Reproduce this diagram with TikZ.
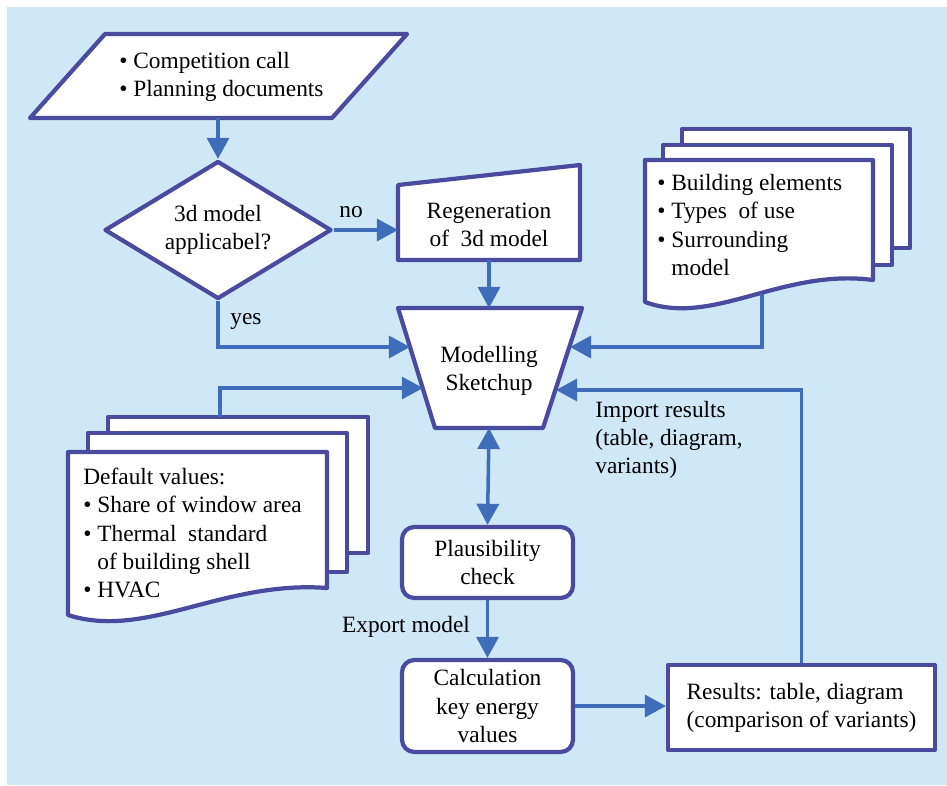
\documentclass[tikz,border=0pt]{standalone}
\usepackage{fontspec}
\setmainfont{Liberation Serif}
\usetikzlibrary{shapes.geometric}
\usetikzlibrary{arrows.meta}
\definecolor{bgblue}{HTML}{CFE8F7}
\definecolor{boxline}{HTML}{4A4A9E}
\definecolor{flowblue}{HTML}{3F6DB9}
\newcommand{\bul}{\textbullet\ }

\begin{document}
\begin{tikzpicture}[x=0.02cm, y=-0.02cm,
    every node/.style={font=\fontsize{13.3}{16}\selectfont},
    box/.style={draw=boxline, line width=2.4pt, fill=white, line join=round},
    flow/.style={draw=flowblue, line width=2pt, -{Triangle[length=12pt,width=12.5pt]}},
    flowboth/.style={draw=flowblue, line width=2pt, {Triangle[length=12pt,width=12.5pt]}-{Triangle[length=12pt,width=12.5pt]}},
    lbl/.style={inner sep=0pt, align=left}]
        \useasboundingbox (0,0) rectangle (947,785);
        \fill[bgblue] (7,7) rectangle (947,785);

        % input documents
        \draw[box] (105,34) -- (407,34) -- (332,118) -- (30,118) -- cycle;
        \node[lbl, anchor=west] (input) at (119,77) {\bul Competition call\\ \bul Planning documents};
        \coordinate (input-s) at (218,118);

        % decision
        \node[box, diamond, aspect=1.64, minimum width=4.54cm, minimum height=2.76cm, inner sep=0pt, align=center] (decide) at (218,230) {3d model\\applicabel?};

        % regeneration
        \draw[box] (398,185) -- (580,165) -- (580,260) -- (398,260) -- cycle;
        \node[align=center] (regen) at (489,225) {Regeneration\\of\ \ 3d model};
        \coordinate (regen-w) at (398,231);
        \coordinate (regen-s) at (489,260);

        % modelling
        \draw[box] (398,308) -- (582,308) -- (543,428) -- (435,428) -- cycle;
        \node[align=center] (model) at (489,371) {Modelling\\Sketchup};
        \coordinate (model-n) at (489,308);
        \coordinate (model-s) at (489,428);
        \coordinate (model-w1) at (410,347);
        \coordinate (model-w2) at (423,388);
        \coordinate (model-e1) at (570,347);
        \coordinate (model-e2) at (556,390);

        % building data stack
        \draw[box] (682,129) rectangle (910,248);
        \draw[box] (663,145) rectangle (892,265);
        \draw[box] (645,160) -- (873,160) -- (873,280) .. controls (782,268) and (713,327) .. (645,302) -- cycle;
        \node[lbl, anchor=west] (elements) at (657,225) {\bul Building elements\\ \bul Types\ \ of use\\ \bul Surrounding\\ \phantom{\bul}model};
        \coordinate (elements-s) at (762,294);

        % default values stack
        \draw[box] (108,417) rectangle (368,553);
        \draw[box] (88,433) rectangle (347,572);
        \draw[box] (68,452) -- (327,452) -- (327,588) .. controls (223,580) and (146,640) .. (68,615) -- cycle;
        \node[lbl, anchor=west] (defaults) at (83,533) {Default values:\\ \bul Share of window area\\ \bul Thermal\ \ standard\\ \phantom{\bul}of building shell\\ \bul HVAC};
        \coordinate (defaults-n) at (220,417);

        % process boxes
        \node[box, rounded corners=7pt, minimum width=3.42cm, minimum height=1.42cm, align=center] (plaus) at (487.5,562.5) {Plausibility\\check};
        \node[box, rounded corners=7pt, minimum width=3.42cm, minimum height=1.84cm, align=center] (calc) at (487.5,706) {Calculation\\key energy\\values};
        \node[box, minimum width=5.34cm, minimum height=1.7cm, align=left] (results) at (801.5,707.5) {Results: table, diagram\\(comparison of variants)};

        % connectors
        \draw[flow] (input-s) -- (decide.north);
        \draw[flow] (decide.east) -- (decide.east -| regen-w);
        \node (no) at (351,212) {no};
        \draw[flow] (regen-s) -- (model-n);
        \draw[flow] (decide.south) |- (model-w1);
        \node (yes) at (246,322) {yes};
        \draw[flow] (defaults-n) |- (model-w2);
        \draw[flow] (elements-s) |- (model-e1);
        \draw[flow] (results.north) |- (model-e2);
        \node[lbl, anchor=west] (import) at (595,440) {Import results\\(table, diagram,\\variants)};
        \draw[flowboth] (model-s) -- (plaus.north);
        \draw[flow] (plaus.south) -- (calc.north);
        \node (export) at (406,627) {Export model};
        \draw[flow] (calc.east) -- (calc.east -| results.west);
    \end{tikzpicture}
\end{document}
